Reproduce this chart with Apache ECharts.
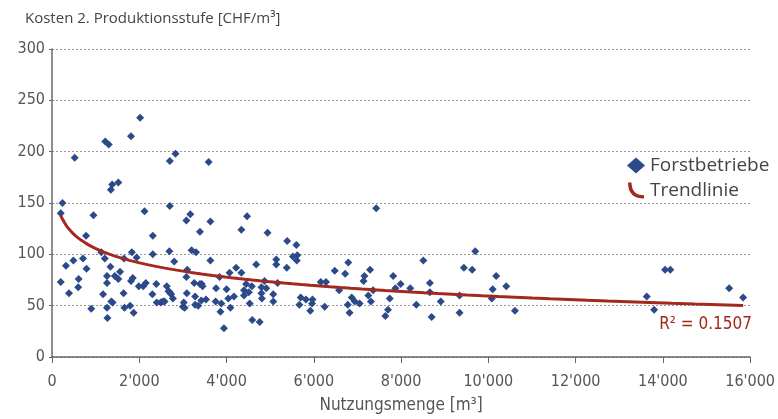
<!DOCTYPE html>
<html>
<head>
<meta charset="utf-8">
<script src="https://cdn.jsdelivr.net/npm/echarts@6/dist/echarts.min.js"></script>
<style>html,body{margin:0;padding:0;background:#fff}#c{width:778px;height:419px}</style>
</head>
<body>
<div id="c"></div>
<script>
// Nutzungsmenge [m3]
const nutzungsmenge = [200,240,520,200,320,390,490,610,600,710,780,790,900,950,1130,1170,1210,1220,1300,1260,1260,1260,1270,1340,1350,1380,1360,1390,1440,1520,1520,1560,1640,1650,1660,1790,1810,1830,1850,1810,1870,1940,1990,2020,2090,2120,2150,2300,2310,2310,2390,2400,2490,2540,2580,2630,2670,2700,2700,2690,2730,2770,2800,2830,3000,3020,3040,3080,3100,3090,3080,3170,3200,3260,3280,3300,3280,3350,3390,3390,3420,3430,3450,3530,3590,3630,3630,3760,3750,3840,3860,3880,3940,4000,4040,4070,4090,4170,4220,2700,
4340,4340,4400,4400,4470,4450,4510,4530,4580,4590,4680,4760,4800,4800,4810,4870,4910,4940,5070,5070,5140,5140,5170,5380,5390,5520,5600,5620,5610,5670,5700,5820,5970,5960,5920,6160,6280,6250,6480,6580,6720,6790,6780,6820,6870,6940,7050,7140,7160,7250,7290,7310,7360,7430,7640,7700,7740,7820,7870,
7990,8210,8350,8510,8660,8660,8700,8910,9340,9340,9440,9630,9700,10100,10180,10080,10410,10610,13630,13800,14050,14170,15520,15840];
// Kosten [CHF/m3]
const kosten = [140,150,194,73,89,62,94,76,68,96,118,86,47,138,102,61,96,210,207,79,72,48,38,88,163,168,54,53,79,76,170,83,62,96,48,50,74,102,77,215,43,97,69,233,69,142,72,61,118,100,71,53,53,54,54,69,64,191,147,103,61,57,93,198,49,53,48,78,85,62,133,139,104,72,59,102,51,50,71,122,55,71,69,56,190,132,94,67,54,78,44,52,28,66,57,82,48,59,87,63,
124,82,65,60,137,71,63,52,69,36,90,34,68,62,57,74,67,121,61,54,95,90,72,87,113,98,109,99,94,51,58,56,56,52,45,73,73,49,84,65,81,92,51,43,58,54,52,74,79,60,85,54,65,145,40,46,57,79,67,
71,67,51,94,72,63,39,54,60,43,87,85,103,66,79,57,69,45,59,46,85,85,67,58];
const xTicks = [0,2000,4000,6000,8000,10000,12000,14000,16000];
const yTicks = [0,50,100,150,200,250,300];
const seriesNames = ['Forstbetriebe','Trendlinie'];
const r2Text = 'R² = 0.1507';
// logarithmic trendline y = a + b*ln(x), coefficients
const trendCoef = [244.4, -20.08];

const points = nutzungsmenge.map((x,i)=>[x,kosten[i]]);
const xmin = Math.min(...nutzungsmenge), xmax = Math.max(...nutzungsmenge);
const trend = [];
for (let i=0;i<=120;i++){const x = xmin*Math.pow(xmax/xmin, i/120); trend.push([x, trendCoef[0] + trendCoef[1]*Math.log(x)]);}

const fmt = v => String(v).replace(/\B(?=(\d{3})+(?!\d))/g, "'");
const axisFont = '"DejaVu Sans Condensed",sans-serif';

const chart = echarts.init(document.getElementById('c'), null, {renderer:'canvas'});
chart.setOption({
  animation:false,
  backgroundColor:'#fff',
  title:{text:'Kosten 2. Produktionsstufe [CHF/m³]', left:20, top:6,
    textStyle:{fontFamily:'"Open Sans",sans-serif', fontSize:15, fontWeight:'normal', color:'#444'}},
  grid:{left:52, right:20, top:49, bottom:56},
  legend:{orient:'vertical', left:622, top:151, itemGap:6, itemWidth:18, itemHeight:16,
    textStyle:{fontFamily:'"Open Sans",sans-serif', fontSize:19, color:'#444'},
    data:[{name:seriesNames[0], icon:'diamond'},
          {name:seriesNames[1], icon:'path://M0,0 L2.2,0 Q2.2,8 10,8 L10,10 Q0,10 0,0 Z'}]},
  xAxis:{type:'value', min:xTicks[0], max:xTicks[xTicks.length-1], interval:2000,
    name:'Nutzungsmenge [m³]', nameLocation:'middle', nameGap:40,
    nameTextStyle:{fontFamily:axisFont, fontSize:17, color:'#555'},
    axisLine:{lineStyle:{color:'#666', width:1.5}},
    axisTick:{show:true, length:6, lineStyle:{color:'#666'}},
    axisLabel:{formatter:fmt, margin:17, fontFamily:axisFont, fontSize:16, color:'#555'},
    splitLine:{show:false}},
  yAxis:{type:'value', min:yTicks[0], max:yTicks[yTicks.length-1], interval:50,
    axisLine:{show:true, lineStyle:{color:'#666', width:1.5}},
    axisTick:{show:true, length:3, lineStyle:{color:'#666'}},
    axisLabel:{margin:7, fontFamily:axisFont, fontSize:16, color:'#555'},
    splitLine:{show:true, lineStyle:{type:[2,2], color:'#999', width:1}}},
  graphic:[{type:'text', right:26, top:316, style:{text:r2Text, fill:'#a0281c',
    font:'17px "DejaVu Sans Condensed",sans-serif'}}],
  series:[
    {name:seriesNames[0], type:'scatter', data:points, symbol:'diamond', symbolSize:8,
     itemStyle:{color:'#2c4a8a', opacity:1}, z:3},
    {name:seriesNames[1], type:'line', data:trend, showSymbol:false, smooth:false,
     lineStyle:{color:'#a3281d', width:3}, itemStyle:{color:'#a3281d'}, z:4}
  ]
});
</script>
</body>
</html>
